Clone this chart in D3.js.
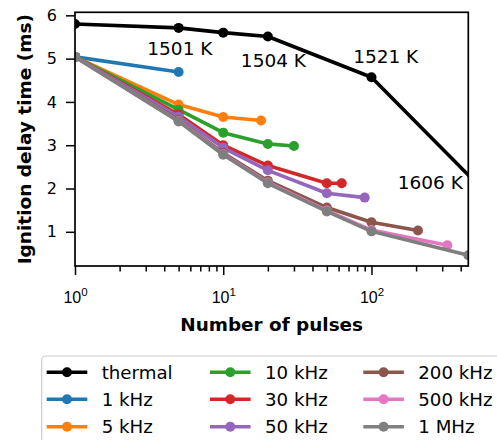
<!DOCTYPE html>
<html>
<head>
<meta charset="utf-8">
<script src="https://cdn.jsdelivr.net/npm/d3@7"></script>
<style>
  html, body { margin: 0; padding: 0; background: #fff; }
  svg { display: block; font-family: "DejaVu Sans", sans-serif; }
</style>
</head>
<body>
<svg id="chart" width="497" height="440"></svg>
<script>
// ---- data ----
const seriesNames = ["thermal", "1 kHz", "5 kHz", "10 kHz", "30 kHz", "50 kHz", "200 kHz", "500 kHz", "1 MHz"];
const seriesColors = ["#000000", "#1f77b4", "#ff7f0e", "#2ca02c", "#d62728", "#9467bd", "#8c564b", "#e377c2", "#7f7f7f"];

const pulsesThermal = [1, 5, 10, 20, 100, 1000];
const delayThermal  = [5.80, 5.71, 5.60, 5.51, 4.57, 1.11];
const pulses1k   = [1, 5];
const delay1k    = [5.04, 4.69];
const pulses5k   = [1, 5, 10, 18];
const delay5k    = [5.04, 3.94, 3.65, 3.57];
const pulses10k  = [1, 5, 10, 20, 30];
const delay10k   = [5.04, 3.82, 3.29, 3.03, 2.98];
const pulses30k  = [1, 5, 10, 20, 50, 63];
const delay30k   = [5.04, 3.71, 3.00, 2.53, 2.12, 2.12];
const pulses50k  = [1, 5, 10, 20, 50, 90];
const delay50k   = [5.04, 3.66, 2.94, 2.42, 1.89, 1.79];
const pulses200k = [1, 5, 10, 20, 50, 100, 206];
const delay200k  = [5.04, 3.58, 2.82, 2.18, 1.56, 1.22, 1.03];
const pulses500k = [1, 5, 10, 20, 50, 100, 325];
const delay500k  = [5.04, 3.56, 2.79, 2.14, 1.49, 1.04, 0.69];
const pulses1M   = [1, 5, 10, 20, 50, 100, 450];
const delay1M    = [5.04, 3.55, 2.78, 2.12, 1.47, 1.01, 0.46];

const tempLabels  = ["1501 K", "1504 K", "1521 K", "1606 K"];
const tempLabelX  = [5.1, 21.8, 124.7, 249.5];
const tempLabelY  = [5.09, 4.80, 4.89, 1.98];

const yTicks = [1, 2, 3, 4, 5, 6];
const xMajorTicks = [1, 10, 100];
const xTickLabels = [["10", "0"], ["10", "1"], ["10", "2"]];
const xDomain = [1, 450];
const yDomain = [0.21, 6.07];

const allPulses = [pulsesThermal, pulses1k, pulses5k, pulses10k, pulses30k, pulses50k, pulses200k, pulses500k, pulses1M];
const allDelays = [delayThermal, delay1k, delay5k, delay10k, delay30k, delay50k, delay200k, delay500k, delay1M];

const series = seriesNames.map((name, i) => ({
  name, color: seriesColors[i],
  points: allPulses[i].map((p, j) => ({ x: p, y: allDelays[i][j] }))
}));

// ---- layout ----
const svg = d3.select("#chart");
const L = 75, R = 468.3, T = 12.3, B = 266;
const x = d3.scaleLog().domain(xDomain).range([L, R]);
const y = d3.scaleLinear().domain(yDomain).range([B, T]);

svg.append("defs").append("clipPath").attr("id", "plotclip")
  .append("rect").attr("x", L).attr("y", T).attr("width", R - L).attr("height", B - T);

const plot = svg.append("g").attr("clip-path", "url(#plotclip)");
const line = d3.line().x(d => x(d.x)).y(d => y(d.y));

series.forEach(s => {
  const g = plot.append("g");
  g.append("path").datum(s.points).attr("d", line)
    .attr("fill", "none").attr("stroke", s.color).attr("stroke-width", 3.6)
    .attr("stroke-linejoin", "round").attr("stroke-linecap", "butt");
  g.selectAll("circle").data(s.points).join("circle")
    .attr("cx", d => x(d.x)).attr("cy", d => y(d.y)).attr("r", 5)
    .attr("fill", s.color);
});

// temperature annotations
svg.append("g").selectAll("text").data(tempLabels).join("text")
  .attr("x", (d, i) => x(tempLabelX[i])).attr("y", (d, i) => y(tempLabelY[i]))
  .attr("text-anchor", "middle").attr("font-size", 18.5).attr("fill", "#000")
  .text(d => d);

// ---- axes ----
const minorTicks = [];
[1, 10, 100].forEach(dec => { for (let k = 2; k <= 9; k++) { const v = dec * k; if (v <= xDomain[1]) minorTicks.push(v); } });

const xAxisMajor = d3.axisBottom(x).tickValues(xMajorTicks).tickSize(9).tickFormat("");
const xAxisMinor = d3.axisBottom(x).tickValues(minorTicks).tickSize(5.5).tickFormat("");
const gxMin = svg.append("g").attr("transform", `translate(0,${B})`).call(xAxisMinor);
const gxMaj = svg.append("g").attr("transform", `translate(0,${B})`).call(xAxisMajor);
[gxMin, gxMaj].forEach(g => {
  g.select(".domain").remove();
  g.selectAll(".tick line").attr("stroke", "#000").attr("stroke-width", 1.5);
});
gxMaj.selectAll(".tick").each(function(d, i) {
  const t = d3.select(this).append("text").attr("y", 303 - B).attr("x", 0)
    .attr("text-anchor", "middle").attr("fill", "#000").attr("font-size", 16);
  t.append("tspan").text(xTickLabels[i][0]);
  t.append("tspan").attr("font-size", 11.5).attr("dy", -7).text(xTickLabels[i][1]);
});

const yAxis = d3.axisLeft(y).tickValues(yTicks).tickSize(9).tickPadding(9).tickFormat(d3.format("d"));
const gy = svg.append("g").attr("transform", `translate(${L},0)`).call(yAxis);
gy.select(".domain").remove();
gy.selectAll(".tick line").attr("stroke", "#000").attr("stroke-width", 1.5);
gy.selectAll(".tick text").attr("font-size", 16).attr("fill", "#000")
  .attr("font-family", "DejaVu Sans, sans-serif");

// frame
svg.append("rect").attr("x", L).attr("y", T).attr("width", R - L).attr("height", B - T)
  .attr("fill", "none").attr("stroke", "#000").attr("stroke-width", 1.7);

// axis labels
svg.append("text").attr("x", (L + R) / 2).attr("y", 331).attr("text-anchor", "middle")
  .attr("font-size", 18.4).attr("font-weight", "bold").text("Number of pulses");
svg.append("text").attr("transform", `translate(30.5,${(T + B) / 2}) rotate(-90)`)
  .attr("text-anchor", "middle").attr("font-size", 18.5).attr("font-weight", "bold")
  .text("Ignition delay time (ms)");

// ---- legend ----
const leg = svg.append("g");
leg.append("rect").attr("x", 41.7).attr("y", 356).attr("width", 480).attr("height", 100)
  .attr("rx", 4).attr("fill", "#fff").attr("fill-opacity", 0.8)
  .attr("stroke", "#cccccc").attr("stroke-width", 1.2);
const colX = [46.7, 210, 363.3];
const rowY = [372.3, 399.3, 426.7];
series.forEach((s, i) => {
  const c = Math.floor(i / 3), r = i % 3;
  const g = leg.append("g").attr("transform", `translate(${colX[c]},${rowY[r]})`);
  g.append("line").attr("x1", 0).attr("x2", 40.6).attr("y1", 0).attr("y2", 0)
    .attr("stroke", s.color).attr("stroke-width", 3.6);
  g.append("circle").attr("cx", 20.3).attr("cy", 0).attr("r", 5).attr("fill", s.color);
  g.append("text").attr("x", 55).attr("y", 6.3).attr("font-size", 18.2).attr("fill", "#000").text(s.name);
});
</script>
</body>
</html>
